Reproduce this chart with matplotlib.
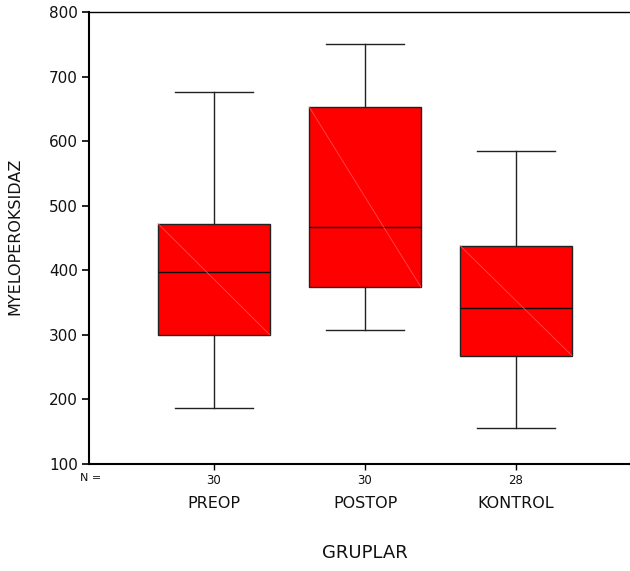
import matplotlib
matplotlib.use("Agg")
import matplotlib.pyplot as plt

plt.rcParams["font.family"] = ["DejaVu Sans"]

groups = ["PREOP", "POSTOP", "KONTROL"]
counts = [30, 30, 28]
whis_low = [187, 308, 156]
q1 = [300, 374, 268]
medians = [398, 467, 342]
q3 = [472, 653, 438]
whis_high = [676, 750, 585]

y_ticks = [100, 200, 300, 400, 500, 600, 700, 800]

fig = plt.figure(figsize=(6.3, 5.71), dpi=100)
ax = fig.add_axes([89 / 630, 107 / 571, 541 / 630, 452 / 571])

stats = []
for i, g in enumerate(groups):
    stats.append({
        "label": g,
        "whislo": whis_low[i],
        "q1": q1[i],
        "med": medians[i],
        "q3": q3[i],
        "whishi": whis_high[i],
        "fliers": [],
    })

positions = [1, 2, 3]
bp = ax.bxp(
    stats,
    positions=positions,
    widths=0.74,
    patch_artist=True,
    showfliers=False,
    boxprops=dict(facecolor="#ff0000", edgecolor="#222222", linewidth=1.0),
    medianprops=dict(color="#111111", linewidth=1.0),
    whiskerprops=dict(color="#222222", linewidth=1.0),
    capprops=dict(color="#222222", linewidth=1.0),
    capwidths=0.52,
)

# faint diagonal seam inside each box
for i, p in enumerate(positions):
    ax.plot([p - 0.37, p + 0.37], [q3[i], q1[i]], color="#ff4a4a",
            linewidth=0.6, zorder=3)

ax.set_xlim(0.172, 3.755)
ax.set_ylim(100, 800)
ax.set_yticks(y_ticks)
ax.set_yticklabels([str(v) for v in y_ticks], fontsize=11, color="#111111")
ax.set_xticks(positions)
ax.set_xticklabels([str(c) for c in counts], fontsize=8.5, color="#111111")
ax.tick_params(axis="y", length=5, width=1.2, pad=3)
ax.tick_params(axis="x", length=4, width=1.0, pad=3)

ax.spines["right"].set_visible(False)
ax.spines["left"].set_linewidth(1.5)
ax.spines["bottom"].set_linewidth(1.5)
ax.spines["top"].set_linewidth(1.0)

fig.text(80 / 630, 1 - 478 / 571, "N =", fontsize=8, ha="left", va="center",
         color="#111111")
for i, g in enumerate(groups):
    x_disp = ax.transData.transform((positions[i], 0))[0]
    fig.text(x_disp / 630, 1 - 503 / 571, g, fontsize=11.5, ha="center",
             va="center", color="#111111")

fig.text(365 / 630, 1 - 553 / 571, "GRUPLAR", fontsize=13, ha="center",
         va="center", color="#111111")
fig.text(15 / 630, 1 - 236 / 571, "MYELOPEROKSIDAZ", fontsize=11.5,
         rotation=90, ha="center", va="center", color="#111111")

fig.savefig("out.png", dpi=100)
